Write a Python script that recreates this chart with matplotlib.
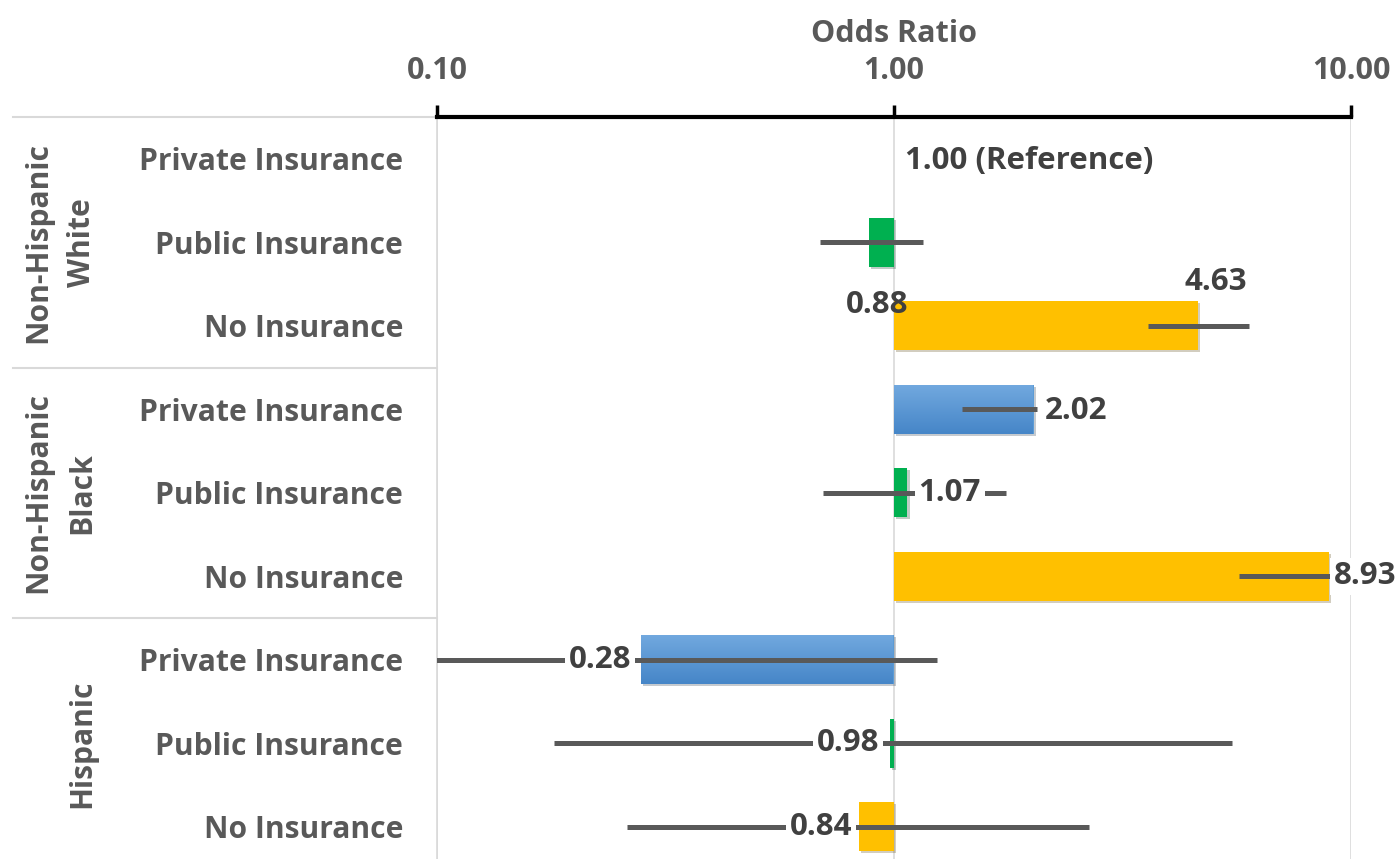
import numpy as np
import matplotlib.pyplot as plt
import matplotlib.patheffects as pe
from matplotlib.colors import LinearSegmentedColormap
from matplotlib.ticker import FixedLocator, FuncFormatter, NullLocator
from matplotlib.transforms import blended_transform_factory

# Odds ratios by race/ethnicity and insurance status (reference: NH White, private)
groups = ['Non-Hispanic\nWhite', 'Non-Hispanic\nBlack', 'Hispanic']
insurance = ['Private Insurance', 'Public Insurance', 'No Insurance']

odds = [1.00, 0.88, 4.63, 2.02, 1.07, 8.93, 0.28, 0.98, 0.84]
ci_low = [np.nan, 0.69, 3.59, 1.41, 0.70, 5.69, 0.08, 0.18, 0.26]
ci_high = [np.nan, 1.16, 5.98, 2.06, 1.76, 9.40, 1.24, 5.49, 2.67]
value_labels = ['1.00 (Reference)', '0.88', '4.63', '2.02', '1.07', '8.93',
                '0.28', '0.98', '0.84']

# label placement: (ha, dx px, dy px, white box)
label_pos = [('left', 11, -2, True), ('center', 8, -63, False), ('center', 18, 44, True),
             ('left', 11, -2, True), ('left', 11, 0, True), ('left', 5, 0, True),
             ('right', -10, 0, True), ('right', -11, 0, True), ('right', -7, 0, True)]

colors = {'Private Insurance': '#5B9BD5', 'Public Insurance': '#00B050',
          'No Insurance': '#FFC000'}
blue_grad = LinearSegmentedColormap.from_list('blue_grad', ['#72A9DF', '#4686C8'])

GRAY = '#595959'
FS = 21.6
FS_VAL = 22.5
plt.rcParams['font.family'] = ['Open Sans', 'DejaVu Sans']
plt.rcParams['font.weight'] = 'bold'

W, H = 1400, 859
fig = plt.figure(figsize=(W / 100, H / 100), dpi=100)
ax = fig.add_axes([437 / W, 0, 914 / W, 742 / H])
ax.set_xscale('log')

row_h = 83.5
bar_h = 0.59
rows = np.arange(len(odds))
shadow = [pe.SimplePatchShadow(offset=(1.5, -1.5), alpha=0.25), pe.Normal()]

for i, v in enumerate(odds):
    kind = insurance[i % 3]
    if i == 0:
        continue  # reference category, no bar
    bar = ax.barh(i, v - 1, left=1, height=bar_h, color=colors[kind],
                  zorder=2, linewidth=0)[0]
    bar.set_path_effects(shadow)
    if kind == 'Private Insurance':
        grad = np.linspace(0, 1, 128).reshape(-1, 1)
        im = ax.imshow(grad, cmap=blue_grad, aspect='auto', zorder=2.1,
                       extent=[min(1, v), max(1, v), i + bar_h / 2, i - bar_h / 2],
                       interpolation='bilinear')
        im.set_clip_path(bar)

# confidence intervals
ax.hlines(rows, ci_low, ci_high, color=GRAY, lw=3.6, zorder=3)

for i, (v, txt) in enumerate(zip(odds, value_labels)):
    ha, dx, dy, boxed = label_pos[i]
    box = dict(boxstyle='square,pad=0.12', fc='white', ec='none') if boxed else None
    ax.annotate(txt, (v, i), xytext=(dx, dy), textcoords='offset pixels',
                ha=ha, va='center', fontsize=FS_VAL, color='#404040', bbox=box,
                zorder=4, annotation_clip=False)

ax.set_xlim(0.1, 10)
ax.set_ylim(-0.5 + 742 / row_h, -0.5)

# top axis
ax.xaxis.tick_top()
ax.xaxis.set_label_position('top')
ax.xaxis.set_major_locator(FixedLocator([0.1, 1, 10]))
ax.xaxis.set_minor_locator(NullLocator())
ax.xaxis.set_major_formatter(FuncFormatter(lambda x, _: f'{x:.2f}'))
ax.tick_params(axis='x', which='major', direction='out', length=8.5, width=2.5,
               color='black', labelsize=22, labelcolor=GRAY, pad=14)
ax.set_xlabel('Odds Ratio', fontsize=22, fontweight='bold', color=GRAY, labelpad=10)
ax.grid(axis='x', which='major', color='#D9D9D9', lw=1.2, zorder=0)

ax.set_yticks(rows)
ax.set_yticklabels([insurance[i % 3] for i in rows])
ax.tick_params(axis='y', length=0, labelsize=FS, labelcolor=GRAY, pad=24.5)

for side in ['bottom', 'right']:
    ax.spines[side].set_visible(False)
ax.spines['left'].set_color('#D9D9D9')
ax.spines['left'].set_linewidth(1.2)
ax.spines['top'].set_color('black')
ax.spines['top'].set_linewidth(3)

# group labels and separators in the left margin
sep_tf = blended_transform_factory(ax.transAxes, ax.transData)
for y in [-0.5, 2.5, 5.5]:
    ax.plot([-(437 - 13) / 914, 0], [y, y], transform=sep_tf, clip_on=False,
            color='#D9D9D9', lw=1.5)

grp_tf = blended_transform_factory(fig.transFigure, ax.transData)
for g, name in enumerate(groups):
    lines = name.split('\n')
    for k, line in enumerate(reversed(lines)):
        ax.text((82 - 44 * k) / W, 3 * g + 1, line, transform=grp_tf, rotation=90,
                ha='center', va='center', fontsize=FS, color=GRAY)

fig.savefig('out.png', dpi=100)
